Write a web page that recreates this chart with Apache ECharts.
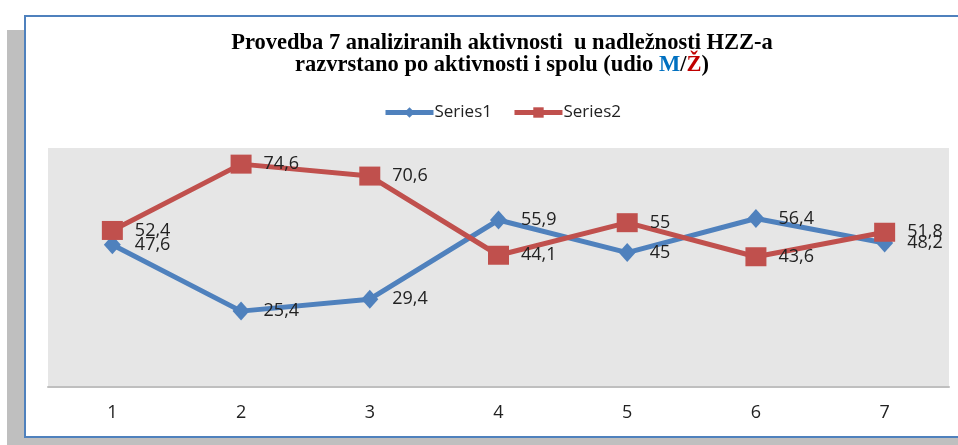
<!DOCTYPE html>
<html>
<head>
<meta charset="utf-8">
<script src="https://cdn.jsdelivr.net/npm/echarts@6/dist/echarts.min.js"></script>
<style>
  html, body { margin: 0; padding: 0; background: #fff; }
  #wrap { position: relative; width: 958px; height: 445px; overflow: hidden; }
  #shadow { position: absolute; left: 7px; top: 30px; width: 980px; height: 430px; background: #bfbfbf; }
  #frame { position: absolute; left: 24px; top: 15px; width: 980px; height: 419px; background: #fff; border: 2px solid #4f81bd; }
  #chart { position: absolute; left: 0; top: 0; width: 958px; height: 445px; }
</style>
</head>
<body>
<div id="wrap">
  <div id="shadow"></div>
  <div id="frame"></div>
  <div id="chart"></div>
</div>
<script>
const categories = ['1', '2', '3', '4', '5', '6', '7']
const series1 = [47.6, 25.4, 29.4, 55.9, 45, 56.4, 48.2]
const series2 = [52.4, 74.6, 70.6, 44.1, 55, 43.6, 51.8]

const labelFont = 'Open Sans'
const fmt = p => String(p.value).replace('.', ',')
const titleStyle = color => ({ fontFamily: 'Liberation Serif', fontWeight: 'bold', fontSize: 22.5, color: color, lineHeight: 22 })

const chart = echarts.init(document.getElementById('chart'))
chart.setOption({
  backgroundColor: 'transparent',
  animation: false,
  title: {
    text: '{a|Provedba 7 analiziranih aktivnosti  u nadležnosti HZZ-a}\n{a|razvrstano po aktivnosti i spolu (udio }{m|M}{a|/}{z|Ž}{a|)}',
    left: 497,
    top: 27,
    textAlign: 'center',
    textStyle: {
      rich: { a: titleStyle('#000'), m: titleStyle('#0070c0'), z: titleStyle('#c00000') }
    }
  },
  legend: {
    data: ['Series1', 'Series2'],
    left: 378,
    top: 99,
    itemWidth: 48,
    itemHeight: 13,
    itemGap: 20,
    lineStyle: { width: 5 },
    textStyle: { fontFamily: labelFont, fontSize: 17, color: '#222', padding: [0, 0, 0, -4] }
  },
  grid: {
    left: 48, right: 9, top: 148, bottom: 58,
    show: true, backgroundColor: '#e6e6e6', borderWidth: 0
  },
  xAxis: {
    type: 'category',
    data: categories,
    boundaryGap: true,
    axisLine: { lineStyle: { color: '#bfbfbf', width: 2 } },
    axisTick: { show: false },
    axisLabel: { fontFamily: labelFont, fontSize: 18, color: '#222', margin: 17 }
  },
  yAxis: {
    type: 'value',
    min: 0,
    max: 80,
    show: false,
    splitLine: { show: false }
  },
  series: [
    {
      name: 'Series1',
      type: 'line',
      data: series1,
      color: '#4f81bd',
      lineStyle: { width: 5 },
      symbol: 'diamond',
      symbolSize: [17, 19],
      itemStyle: { color: '#4f81bd' },
      label: { show: true, position: 'right', distance: 14, formatter: fmt, fontFamily: labelFont, fontSize: 18, color: '#222' }
    },
    {
      name: 'Series2',
      type: 'line',
      data: series2,
      color: '#c0504d',
      lineStyle: { width: 5 },
      symbol: 'rect',
      symbolSize: [21, 19],
      itemStyle: { color: '#c0504d' },
      label: { show: true, position: 'right', distance: 12, formatter: fmt, fontFamily: labelFont, fontSize: 18, color: '#222' }
    }
  ]
})
</script>
</body>
</html>
